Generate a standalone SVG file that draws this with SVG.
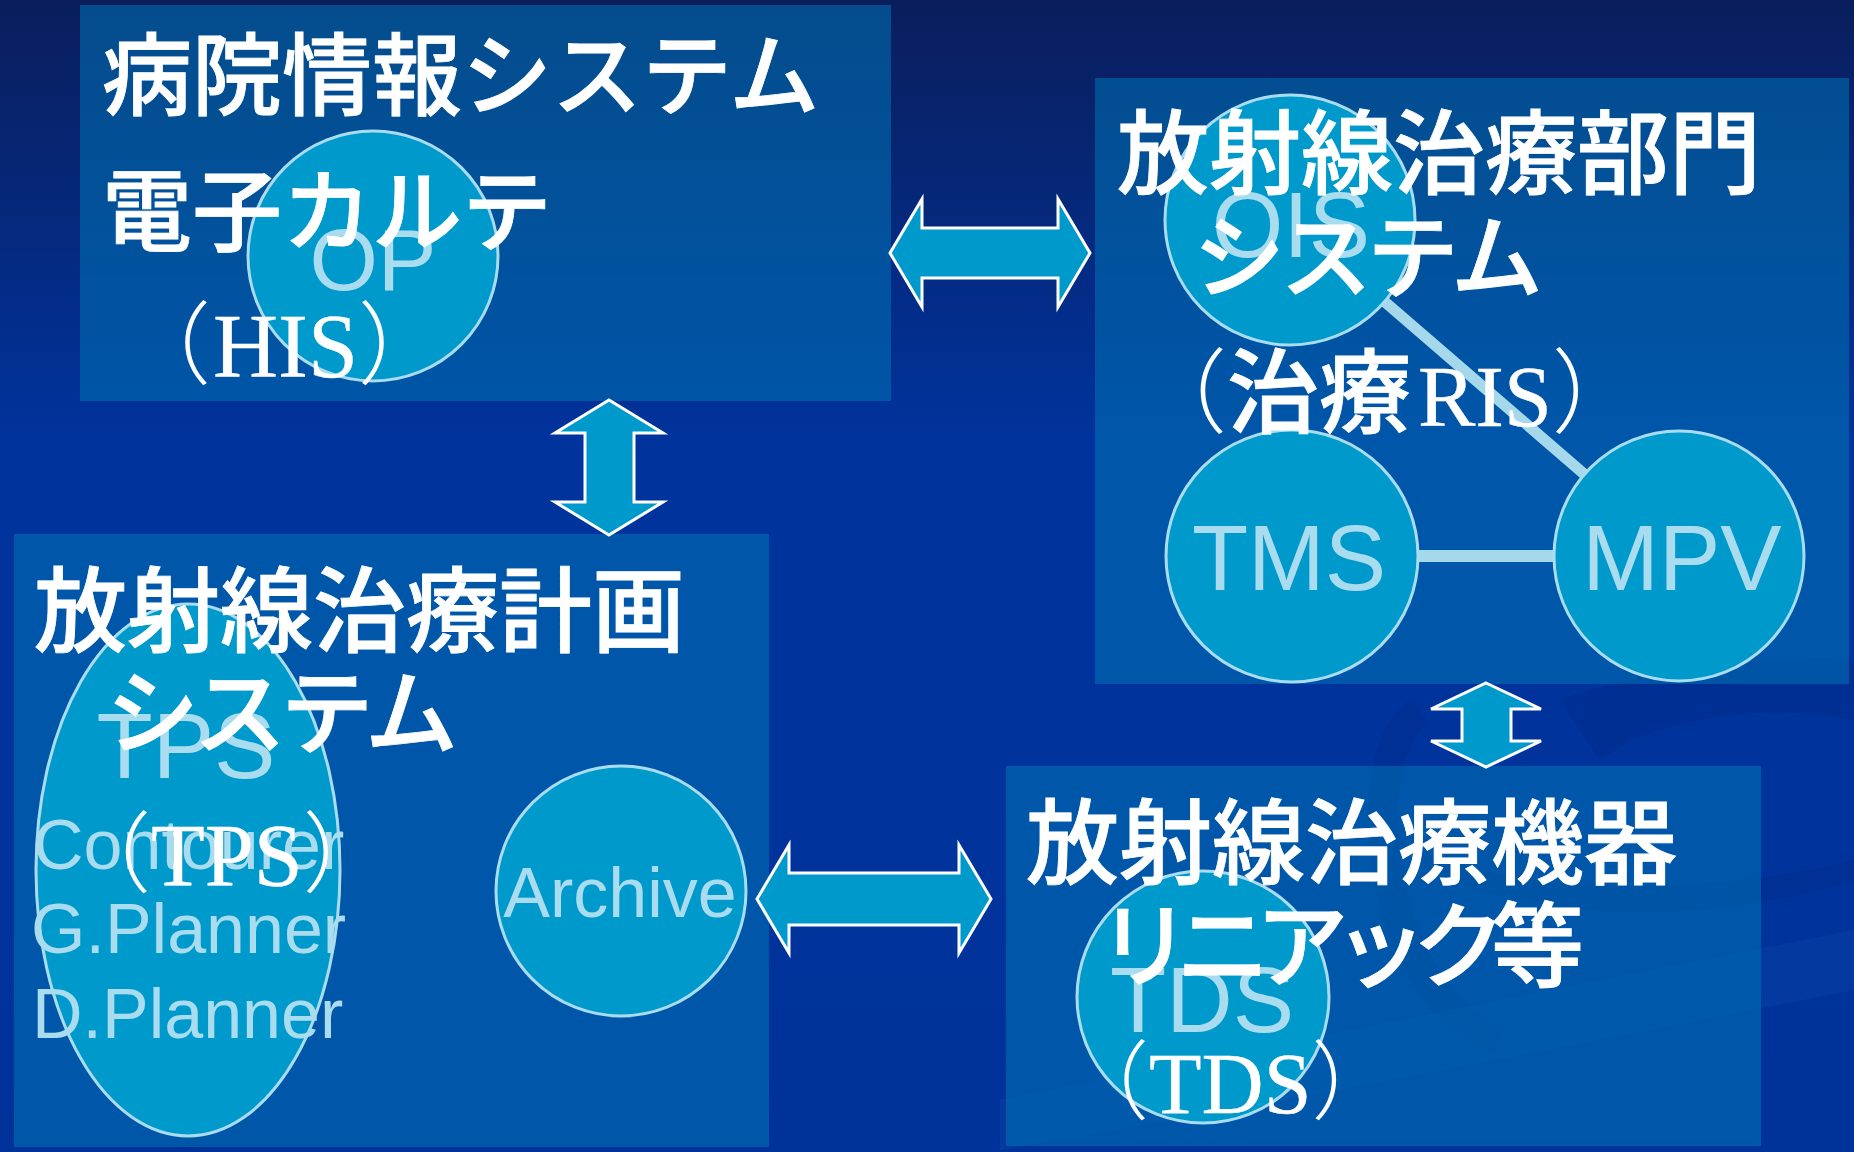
<svg xmlns="http://www.w3.org/2000/svg" width="1854" height="1152" viewBox="0 0 1854 1152">
  <defs>
    <linearGradient id="bg" x1="0" y1="0" x2="0" y2="1">
      <stop offset="0" stop-color="#0a1e5c"/>
      <stop offset="0.38" stop-color="#00339c"/>
      <stop offset="1" stop-color="#00339a"/>
    </linearGradient>
    <style>
      .box { fill: #0073b4; fill-opacity: 0.55; }
      .node { fill: #0099cc; stroke: #a8dcee; stroke-width: 3; }
      .lbl { fill: #a8dcee; font-family: "Liberation Sans", Arial, sans-serif; }
      .ttl { fill: #ffffff; font-family: "Noto Sans CJK JP", sans-serif; font-weight: 500; stroke: #ffffff; stroke-width: 0.8; }
      .ser { font-family: "Liberation Serif", "Noto Sans CJK JP", serif; font-weight: 400; stroke-width: 0.4; }
      .par { font-weight: 300; stroke-width: 0; }
      .arrow { fill: #0099cc; stroke: #ffffff; stroke-width: 3; stroke-linejoin: miter; }
      .link { stroke: #a6d8ec; fill: none; }
    </style>
  </defs>

  <rect x="0" y="0" width="1854" height="1152" fill="url(#bg)"/>
  <!-- subtle background swooshes -->
  <g id="backdrop" fill="none">
    <path d="M1000 1100 C 1300 1040, 1600 980, 1854 930 L1854 990 C 1600 1040, 1300 1100, 1000 1150 Z" fill="#1a6cc0" fill-opacity="0.14"/>
    <path d="M1560 700 C 1700 650, 1854 660, 1854 660 L1854 720 C 1760 700, 1650 720, 1600 760 Z" fill="#001f70" fill-opacity="0.18"/>
    <path d="M1380 820 C 1450 900, 1700 900, 1854 860 L1854 880 C 1700 930, 1450 930, 1380 820 Z" fill="#001f70" fill-opacity="0.15"/>
    <path d="M1420 710 C 1350 760, 1380 1000, 1500 1040" stroke="#001f70" stroke-opacity="0.12" stroke-width="30"/>
  </g>

  <!-- containers -->
  <g id="his"><rect class="box" x="80" y="5" width="811" height="396"/></g>
  <g id="ris"><rect class="box" x="1095" y="78" width="754" height="606"/></g>
  <g id="tps"><rect class="box" x="14" y="534" width="755" height="613"/></g>
  <g id="tds"><rect class="box" x="1006" y="766" width="755" height="380"/></g>

  <!-- connectors -->
  <g id="connectors">
    <line class="link" x1="1290" y1="220" x2="1679" y2="556" stroke-width="11"/>
    <line class="link" x1="1292" y1="556" x2="1679" y2="556" stroke-width="12"/>
    <path class="arrow" d="M890 253 L922 199 L922 228 L1058 228 L1058 199 L1090 253 L1058 307 L1058 278 L922 278 L922 307 Z"/>
    <path class="arrow" d="M609 400 L663 433 L634 433 L634 502 L663 502 L609 535 L555 502 L585 502 L585 433 L555 433 Z"/>
    <path class="arrow" d="M1486 683 L1541 709 L1511 709 L1511 741 L1541 741 L1486 767 L1431 741 L1462 741 L1462 709 L1431 709 Z"/>
    <path class="arrow" d="M757 899 L789 845 L789 873 L959 873 L959 845 L991 899 L959 953 L959 925 L789 925 L789 953 Z"/>
  </g>

  <!-- inner nodes -->
  <g id="op">
    <circle class="node" cx="373" cy="256" r="125"/>
    <text class="lbl" x="373" y="290" font-size="88" text-anchor="middle">OP</text>
  </g>
  <g id="ois">
    <circle class="node" cx="1290" cy="220" r="125"/>
    <text class="lbl" x="1291" y="257" font-size="92" text-anchor="middle">OIS</text>
  </g>
  <g id="tms">
    <circle class="node" cx="1292" cy="556" r="126"/>
    <text class="lbl" x="1289" y="590" font-size="92" text-anchor="middle">TMS</text>
  </g>
  <g id="mpv">
    <circle class="node" cx="1679" cy="556" r="125"/>
    <text class="lbl" x="1682" y="590" font-size="92" text-anchor="middle">MPV</text>
  </g>
  <g id="tps-apps">
    <ellipse class="node" cx="188" cy="870" rx="152" ry="266"/>
    <text class="lbl" x="186" y="778" font-size="92" text-anchor="middle">TPS</text>
    <text class="lbl" x="33" y="869" font-size="70">Contourer</text>
    <text class="lbl" x="31" y="953" font-size="70">G.Planner</text>
    <text class="lbl" x="32" y="1038" font-size="70">D.Planner</text>
  </g>
  <g id="archive">
    <circle class="node" cx="621" cy="891" r="125"/>
    <text class="lbl" x="620" y="917" font-size="70" text-anchor="middle">Archive</text>
  </g>
  <g id="tds-node">
    <circle class="node" cx="1203" cy="997" r="126"/>
    <text class="lbl" x="1202" y="1032" font-size="92" text-anchor="middle">TDS</text>
  </g>

  <!-- container titles -->
  <g id="his-title" class="ttl">
    <text x="102" y="108" font-size="90">病院情報システム</text>
    <text x="102" y="244" font-size="90">電子カルテ</text>
    <text y="377" font-size="90"><tspan class="par" x="121">（</tspan><tspan class="ser" x="213">HIS</tspan><tspan class="par">）</tspan></text>
  </g>
  <g id="ris-title" class="ttl">
    <text x="1117" y="187" font-size="92">放射線治療部門</text>
    <text x="1193" y="291" font-size="92" textLength="350" lengthAdjust="spacing">システム</text>
    <text y="426" font-size="92"><tspan class="par" x="1135">（</tspan><tspan>治療</tspan><tspan class="ser" x="1418" font-size="86">RIS</tspan><tspan class="par">）</tspan></text>
  </g>
  <g id="tps-title" class="ttl">
    <text x="34" y="645" font-size="93">放射線治療計画</text>
    <text x="106" y="747" font-size="93" textLength="352" lengthAdjust="spacing">システム</text>
    <text y="885" font-size="88"><tspan class="par" x="63">（</tspan><tspan class="ser" x="151">TPS</tspan><tspan class="par">）</tspan></text>
  </g>
  <g id="tds-title" class="ttl">
    <text x="1026" y="877" font-size="93">放射線治療機器</text>
    <text x="1098" y="980" font-size="93" textLength="486" lengthAdjust="spacing">リニアック等</text>
    <text y="1113" font-size="86"><tspan class="par" x="1063">（</tspan><tspan class="ser" x="1149">TDS</tspan><tspan class="par">）</tspan></text>
  </g>
</svg>
